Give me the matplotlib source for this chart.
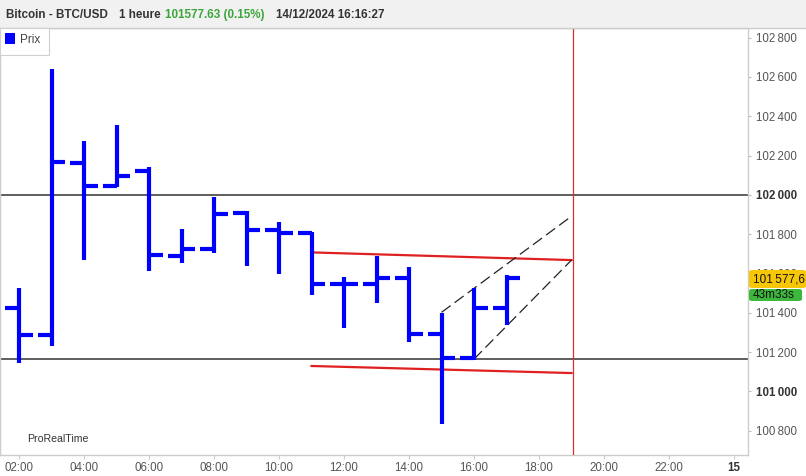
import matplotlib
matplotlib.use('Agg')
from matplotlib import pyplot as plt
from matplotlib.patches import Rectangle, FancyBboxPatch

# hourly OHLC, 14/12/2024 (hour of day)
hours = [2, 3, 4, 5, 6, 7, 8, 9, 10, 11, 12, 13, 14, 15, 16, 17]
opens = [101424, 101286, 102162, 102045, 102121, 101688, 101724, 101907,
         101821, 101806, 101546, 101546, 101576, 101292, 101169, 101424]
highs = [101526, 102640, 102273, 102355, 102142, 101826, 101989, 101918,
         101862, 101811, 101582, 101688, 101633, 101398, 101526, 101592]
lows = [101144, 101230, 101668, 102040, 101612, 101653, 101704, 101638,
        101597, 101490, 101322, 101449, 101251, 100833, 101159, 101338]
closes = [101286, 102167, 102045, 102096, 101694, 101724, 101902, 101821,
          101806, 101546, 101546, 101576, 101292, 101169, 101424, 101577.6]

# drawn objects
support_levels = [102000, 101164]
red_upper = ([11, 19], [101707, 101668])
red_lower = ([11, 19], [101129, 101093])
dash_upper = ([15, 19], [101402, 101891])
dash_lower = ([16, 19], [101164, 101668])
now_line = 19.05

xticks = [2, 4, 6, 8, 10, 12, 14, 16, 18, 20, 22, 24]
xlabels = ['02:00', '04:00', '06:00', '08:00', '10:00', '12:00', '14:00',
           '16:00', '18:00', '20:00', '22:00', '15']
yticks = [100800, 101000, 101200, 101400, 101600, 101800, 102000, 102200,
          102400, 102600, 102800]

plt.rcParams['font.family'] = ['Liberation Sans', 'DejaVu Sans']

W, H = 806, 476
fig = plt.figure(figsize=(W / 100, H / 100), dpi=100)
fig.patch.set_facecolor('white')

def fx(px):
    return px / W

def fy(py):
    return 1 - py / H

ax = fig.add_axes([0, fy(455), fx(748), fy(28) - fy(455)])
ax.set_xlim(1.415, 24.43)
ax.set_ylim(100676, 102849)

blue = '#0000ff'
tick = 0.43
ax.vlines(hours, lows, highs, color=blue, lw=3, capstyle='butt', zorder=5)
ax.hlines(opens, [h - tick for h in hours], hours, color=blue, lw=3,
          capstyle='butt', zorder=5)
ax.hlines(closes, hours, [h + tick for h in hours], color=blue, lw=3,
          capstyle='butt', zorder=5)

for lvl in support_levels:
    ax.axhline(lvl, color='#333333', lw=1.1, zorder=2)
ax.plot(*red_upper, color='#e02020', lw=1.6, zorder=3)
ax.plot(*red_lower, color='#e02020', lw=1.6, zorder=3)
ax.plot(*dash_upper, color='#222222', lw=0.9, dashes=(9, 4), zorder=3)
ax.plot(*dash_lower, color='#222222', lw=0.9, dashes=(9, 4), zorder=3)
ax.axvline(now_line, color='#d83030', lw=0.9, zorder=3)

for s in ax.spines.values():
    s.set_color('#cccccc')
    s.set_linewidth(1)

ax.yaxis.tick_right()
ax.set_yticks(yticks)
ax.set_yticklabels(['{:,}'.format(v).replace(',', '\u2009') for v in yticks])
ax.tick_params(axis='y', length=2, width=0.8, color='#bbbbbb', pad=4,
               labelsize=8.3, labelcolor='#555555')
for lbl, v in zip(ax.get_yticklabels(), yticks):
    if v % 1000 == 0:
        lbl.set_fontweight('bold')
        lbl.set_color('#333333')

ax.set_xticks(xticks)
ax.set_xticklabels(xlabels)
ax.tick_params(axis='x', length=3, width=0.8, color='#cccccc', pad=2,
               labelsize=8.3, labelcolor='#555555')
xl = ax.get_xticklabels()
xl[-1].set_fontweight('bold')
xl[-1].set_color('#333333')

# header
fig.patches.append(Rectangle((0, fy(28)), 1, 1 - fy(28), transform=fig.transFigure,
                             facecolor='#f1f1f1', edgecolor='none', zorder=0))
fig.add_artist(plt.Line2D([0, 1], [fy(28), fy(28)], color='#cccccc', lw=1,
                          transform=fig.transFigure))
hdr = dict(fontsize=8.4, fontweight='bold', va='center')
fig.text(fx(6), fy(15), 'Bitcoin - BTC/USD', color='#333333', **hdr)
fig.text(fx(119), fy(15), '1 heure', color='#333333', **hdr)
fig.text(fx(165), fy(15), '101577.63 (0.15%)', color='#3aa53a', **hdr)
fig.text(fx(276), fy(15), '14/12/2024 16:16:27', color='#333333', **hdr)

# legend box
fig.patches.append(Rectangle((0, fy(55)), fx(49), fy(28) - fy(55),
                             transform=fig.transFigure, facecolor='white',
                             edgecolor='#d0d0d0', lw=0.8, zorder=6))
fig.patches.append(Rectangle((fx(5), fy(44)), fx(10), fy(33) - fy(44),
                             transform=fig.transFigure, facecolor=blue,
                             edgecolor='none', zorder=7))
fig.text(fx(20), fy(40), 'Prix', fontsize=8.5, color='#444444', va='center',
         zorder=8)

fig.text(fx(27), fy(439), 'ProRealTime', fontsize=7.6, color='#333333',
         va='center')

# last price / countdown boxes
fig.patches.append(FancyBboxPatch((fx(749), fy(288)), fx(57), fy(270) - fy(288),
                                  boxstyle='round,pad=0,rounding_size=0.004',
                                  transform=fig.transFigure, facecolor='#f7c707',
                                  edgecolor='none', zorder=9))
fig.text(fx(753), fy(279), '101\u2009577,6', fontsize=8.5, color='#111111',
         va='center', zorder=10)
fig.patches.append(FancyBboxPatch((fx(749), fy(301)), fx(53), fy(289) - fy(301),
                                  boxstyle='round,pad=0,rounding_size=0.004',
                                  transform=fig.transFigure, facecolor='#3cb83c',
                                  edgecolor='none', zorder=9))
fig.text(fx(753), fy(295), '43m33s', fontsize=8.5, color='#111111',
         va='center', zorder=10)

fig.savefig('out.png', dpi=100)
